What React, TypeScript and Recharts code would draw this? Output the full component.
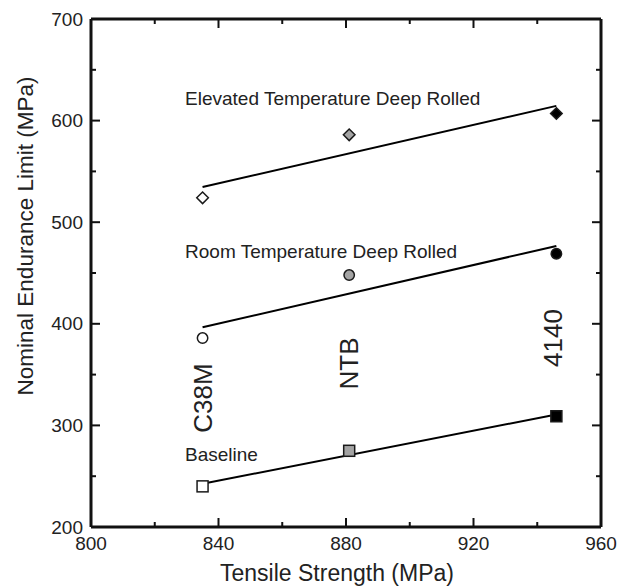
import React from 'react';
import { ComposedChart, Scatter, XAxis, YAxis, Label, ReferenceDot } from 'recharts';

// ---- data ----
const materials = ['C38M', 'NTB', '4140'];
const tensileStrength = [835, 881, 946];
const baselineLimit = [240, 275, 309];
const roomTempLimit = [386, 448, 469];
const elevatedTempLimit = [524, 586, 607];

const fitX = [835, 946];
const baselineFit = [242.5, 310.8];
const roomFit = [396.6, 476.6];
const elevatedFit = [534.6, 614.5];

const seriesNames = ['Baseline', 'Room Temperature Deep Rolled', 'Elevated Temperature Deep Rolled'];
const seriesNameX = 829.5;
const seriesNameY = [271, 471.6, 622];
const materialLabelX = [835, 881, 945];
const materialLabelY = [327, 361, 386];

const xTicks = [800, 820, 840, 860, 880, 900, 920, 940, 960];
const xMajor = [800, 840, 880, 920, 960];
const yTicks = [200, 250, 300, 350, 400, 450, 500, 550, 600, 650, 700];
const yMajor = [200, 300, 400, 500, 600, 700];

// ---- styles ----
const FONT = '"Liberation Sans", Arial, Helvetica, sans-serif';
const TEXT = '#222';
const AXIS = '#111';
const markerFills = ['#ffffff', '#a4a4a4', '#000000'];

const rows = (ys: number[]) => tensileStrength.map((x, i) => ({ x, y: ys[i], m: i }));
const fitRows = (ys: number[]) => fitX.map((x, i) => ({ x, y: ys[i] }));

const Square = (p: any) => {
  const s = 11;
  return (
    <rect x={p.cx - s / 2} y={p.cy - s / 2} width={s} height={s}
      fill={markerFills[p.payload.m]} stroke="#1a1a1a" strokeWidth={1.5} />
  );
};
const Circle = (p: any) => (
  <circle cx={p.cx} cy={p.cy} r={5.2} fill={markerFills[p.payload.m]} stroke="#1a1a1a" strokeWidth={1.5} />
);
const Diamond = (p: any) => {
  const h = 5.8;
  return (
    <polygon points={`${p.cx},${p.cy - h} ${p.cx + h},${p.cy} ${p.cx},${p.cy + h} ${p.cx - h},${p.cy}`}
      fill={markerFills[p.payload.m]} stroke="#1a1a1a" strokeWidth={1.5} />
  );
};
const NoShape = () => <g />;

const XTick = (p: any) => {
  const { x, y, payload, side } = p;
  const major = xMajor.includes(payload.value);
  const len = major ? 9 : 5;
  const dir = side === 'bottom' ? -1 : 1;
  return (
    <g>
      <line x1={x} x2={x} y1={y} y2={y + dir * len} stroke={AXIS} strokeWidth={2} />
      {side === 'bottom' && major && (
        <text x={x} y={y + 23} textAnchor="middle" fontSize={19} fontFamily={FONT} fill={TEXT}>
          {payload.value}
        </text>
      )}
    </g>
  );
};

const YTick = (p: any) => {
  const { x, y, payload, side } = p;
  const major = yMajor.includes(payload.value);
  const len = major ? 9 : 5;
  const dir = side === 'left' ? 1 : -1;
  return (
    <g>
      <line x1={x} x2={x + dir * len} y1={y} y2={y} stroke={AXIS} strokeWidth={2} />
      {side === 'left' && major && (
        <text x={x - 8} y={y + 6.5} textAnchor="end" fontSize={19} fontFamily={FONT} fill={TEXT}>
          {payload.value}
        </text>
      )}
    </g>
  );
};

const SeriesName = (p: any) => {
  const vb = p.viewBox || {};
  return (
    <text x={vb.x} y={vb.y} dominantBaseline="central" fontSize={19} fontFamily={FONT} fill={TEXT}>
      {p.text}
    </text>
  );
};

const MaterialName = (p: any) => {
  const vb = p.viewBox || {};
  return (
    <text x={vb.x} y={vb.y} transform={`rotate(-90 ${vb.x} ${vb.y})`} textAnchor="middle"
      dominantBaseline="central" fontSize={26} fontFamily={FONT} fill={TEXT}>
      {p.text}
    </text>
  );
};

const XTitle = (p: any) => {
  const vb = p.viewBox;
  return (
    <text x={vb.x + vb.width / 2 - 9} y={vb.y + 54} textAnchor="middle" fontSize={23} fontFamily={FONT} fill={TEXT}>
      Tensile Strength (MPa)
    </text>
  );
};

const YTitle = (p: any) => {
  const vb = p.viewBox;
  const cx = vb.x - 6;
  const cy = vb.y + vb.height / 2 - 37;
  return (
    <text x={cx} y={cy} transform={`rotate(-90 ${cx} ${cy})`} textAnchor="middle" dominantBaseline="central"
      fontSize={22.5} fontFamily={FONT} fill={TEXT}>
      Nominal Endurance Limit (MPa)
    </text>
  );
};

export default function App() {
  return (
    <div style={{ position: 'absolute', left: 0, top: 0, background: '#fff' }}>
      <ComposedChart width={627} height={586} margin={{ top: 18, right: 25, bottom: 19, left: 31 }}>
        <XAxis dataKey="x" type="number" domain={[800, 960]} ticks={xTicks} interval={0} allowDataOverflow
          height={40} tickSize={0} tickMargin={0} tickLine={false}
          axisLine={{ stroke: AXIS, strokeWidth: 3 }} tick={<XTick side="bottom" />}>
          <Label content={<XTitle />} />
        </XAxis>
        <XAxis xAxisId="top" orientation="top" dataKey="x" type="number" domain={[800, 960]} ticks={xTicks}
          interval={0} allowDataOverflow height={1} tickSize={0} tickMargin={0} tickLine={false}
          axisLine={{ stroke: AXIS, strokeWidth: 3 }} tick={<XTick side="top" />} />
        <YAxis dataKey="y" type="number" domain={[200, 700]} ticks={yTicks} interval={0} allowDataOverflow
          width={60} tickSize={0} tickMargin={0} tickLine={false}
          axisLine={{ stroke: AXIS, strokeWidth: 3 }} tick={<YTick side="left" />}>
          <Label content={<YTitle />} />
        </YAxis>
        <YAxis yAxisId="right" orientation="right" dataKey="y" type="number" domain={[200, 700]} ticks={yTicks}
          interval={0} allowDataOverflow width={1} tickSize={0} tickMargin={0} tickLine={false}
          axisLine={{ stroke: AXIS, strokeWidth: 3 }} tick={<YTick side="right" />} />

        {/* invisible series that binds the mirrored top/right axes */}
        <Scatter xAxisId="top" yAxisId="right" data={fitRows(baselineFit)} shape={NoShape} isAnimationActive={false} />

        <Scatter data={fitRows(baselineFit)} line={{ stroke: '#000', strokeWidth: 2 }} shape={NoShape} isAnimationActive={false} />
        <Scatter data={fitRows(roomFit)} line={{ stroke: '#000', strokeWidth: 2 }} shape={NoShape} isAnimationActive={false} />
        <Scatter data={fitRows(elevatedFit)} line={{ stroke: '#000', strokeWidth: 2 }} shape={NoShape} isAnimationActive={false} />

        <Scatter data={rows(baselineLimit)} shape={Square} isAnimationActive={false} />
        <Scatter data={rows(roomTempLimit)} shape={Circle} isAnimationActive={false} />
        <Scatter data={rows(elevatedTempLimit)} shape={Diamond} isAnimationActive={false} />

        {seriesNames.map((name, i) => (
          <ReferenceDot key={name} x={seriesNameX} y={seriesNameY[i]} r={0} stroke="none" fill="none"
            label={<SeriesName text={name} />} />
        ))}
        {materials.map((name, i) => (
          <ReferenceDot key={name} x={materialLabelX[i]} y={materialLabelY[i]} r={0} stroke="none" fill="none"
            label={<MaterialName text={name} />} />
        ))}
      </ComposedChart>
    </div>
  );
}
